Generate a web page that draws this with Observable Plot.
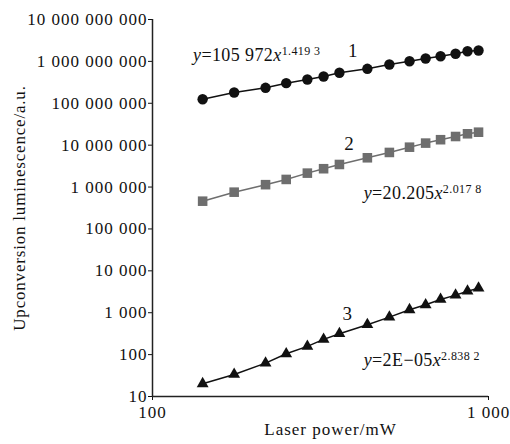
<!DOCTYPE html>
<html>
<head>
<meta charset="utf-8">
<script src="https://cdn.jsdelivr.net/npm/d3@7"></script>
<script src="https://cdn.jsdelivr.net/npm/@observablehq/plot@0.6"></script>
<style>
  body { margin: 0; background: #fff; }
  #chart svg { font-family: "Liberation Serif", "DejaVu Serif", serif; }
  #chart svg text { letter-spacing: 1px; }
  #chart svg g[aria-label="y-axis tick label"], #chart svg g[aria-label="x-axis tick label"] { font-size: 17px; }
  #chart svg g.ylab text { letter-spacing: 0.8px; }
  #chart svg g.eqn text { letter-spacing: 0.4px; }
</style>
</head>
<body>
<div id="chart"></div>
<script>
// Laser power (mW)
const power = [141, 175, 217, 250, 289, 323, 360, 436, 507, 582, 650, 720, 798, 866, 934];
// Series 1 (circles)
const series1 = [1.25e8, 1.81e8, 2.34e8, 3.02e8, 3.70e8, 4.37e8, 5.36e8, 6.65e8, 8.43e8, 1.01e9, 1.17e9, 1.33e9, 1.52e9, 1.75e9, 1.82e9];
// Series 2 (squares)
const series2 = [4.6e5, 7.55e5, 1.14e6, 1.52e6, 2.15e6, 2.74e6, 3.46e6, 5.0e6, 6.7e6, 8.95e6, 1.12e7, 1.35e7, 1.61e7, 1.87e7, 2.04e7];
// Series 3 (triangles)
const series3 = [20.2, 33.6, 62.7, 105, 157, 231, 316, 518, 785, 1180, 1550, 2075, 2630, 3270, 3860];

const yTicks = [10, 1e2, 1e3, 1e4, 1e5, 1e6, 1e7, 1e8, 1e9, 1e10];
const xTicks = [100, 1000];
const yTitle = "Upconversion luminescence/a.u.";
const xTitle = "Laser power/mW";

// Curve numbers
const curveLabels = [
  {x: 396, y: 1.82e9, text: "1"},
  {x: 386, y: 1.1e7, text: "2"},
  {x: 381, y: 962, text: "3"}
];
// Fit equations
const equations = [
  {x: 132, y: 1.38e9, coef: "=105 972", exp: "1.419 3"},
  {x: 425, y: 7.0e5, coef: "=20.205", exp: "2.017 8"},
  {x: 425, y: 72.8, coef: "=2E\u221205", exp: "2.838 2"}
];

const fmt = v => d3.format(",")(v).replace(/,/g, " ");
const mk = (ys) => power.map((x, i) => ({x, y: ys[i]}));
const d1 = mk(series1), d2 = mk(series2), d3s = mk(series3);

const plot = Plot.plot({
  width: 510,
  height: 444,
  marginLeft: 152,
  marginRight: 22,
  marginTop: 19,
  marginBottom: 48,
  style: {fontFamily: "Liberation Serif, serif", fontSize: "17px", color: "#111", background: "#fff"},
  x: {type: "log", domain: [100, 1000]},
  y: {type: "log", domain: [10, 1e10]},
  marks: [
    Plot.axisY({ticks: yTicks, tickFormat: fmt, tickSize: 4, tickPadding: 1, label: null}),
    Plot.axisX({ticks: xTicks, tickFormat: fmt, tickSize: 4, tickPadding: 5, label: null}),
    Plot.text([yTitle], {frameAnchor: "left", textAnchor: "middle", rotate: -90, dx: -133, text: d => d, fontSize: 17, fill: "#111", className: "ylab"}),
    Plot.text([xTitle], {frameAnchor: "bottom", textAnchor: "middle", dx: 10, dy: 38, text: d => d, fontSize: 17, fill: "#111", className: "xlab"}),
    Plot.ruleX([100], {stroke: "#222", strokeWidth: 1.5}),
    Plot.ruleY([10], {stroke: "#222", strokeWidth: 1.5}),
    Plot.line(d1, {x: "x", y: "y", stroke: "#111", strokeWidth: 1.5}),
    Plot.dot(d1, {x: "x", y: "y", r: 5.2, fill: "#111", symbol: "circle"}),
    Plot.line(d2, {x: "x", y: "y", stroke: "#6e6e6e", strokeWidth: 1.5}),
    Plot.dot(d2, {x: "x", y: "y", r: 5.4, fill: "#6e6e6e", symbol: "square"}),
    Plot.line(d3s, {x: "x", y: "y", stroke: "#111", strokeWidth: 1.5}),
    Plot.dot(d3s, {x: "x", y: "y", r: 4.4, fill: "#111", symbol: "triangle"}),
    Plot.text(curveLabels, {x: "x", y: "y", text: "text", fontSize: 19, fill: "#111"}),
    Plot.text(equations, {x: "x", y: "y", text: "coef", textAnchor: "start", fontSize: 18, fill: "#111", className: "eqn"})
  ]
});

// Rich formatting of equations: italic y and x, superscript exponent
d3.select(plot).selectAll(".eqn text").each(function(_, i) {
  const e = equations[i];
  const t = d3.select(this);
  t.text(null);
  t.append("tspan").attr("font-style", "italic").text("y");
  t.append("tspan").text(e.coef);
  t.append("tspan").attr("font-style", "italic").text("x");
  t.append("tspan").attr("font-size", 12).attr("dy", "-0.55em").text(e.exp);
});

document.getElementById("chart").append(plot);
</script>
</body>
</html>
